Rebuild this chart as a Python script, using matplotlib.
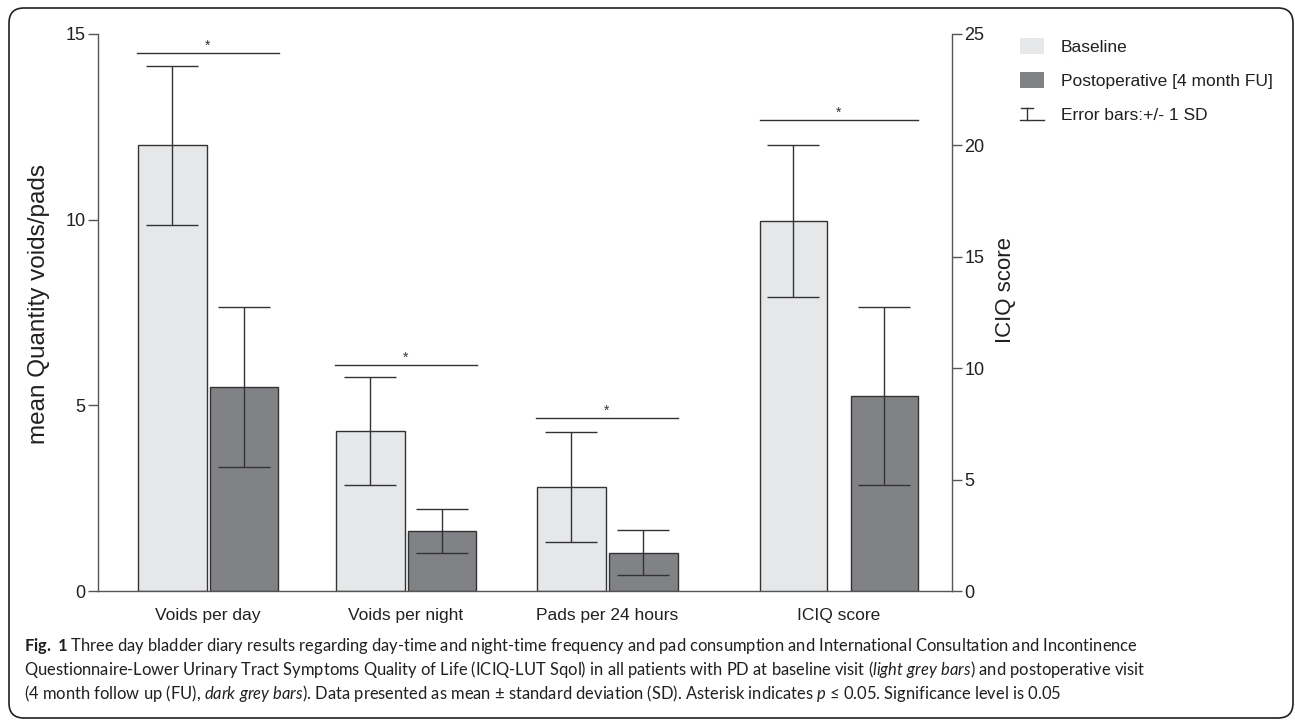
import numpy as np
import matplotlib
matplotlib.use("Agg")
import matplotlib.pyplot as plt
from matplotlib.patches import Patch, FancyBboxPatch
from matplotlib.lines import Line2D
from matplotlib.legend_handler import HandlerBase

plt.rcParams['font.family'] = ['Liberation Sans', 'DejaVu Sans']
plt.rcParams['mathtext.fontset'] = 'custom'
plt.rcParams['mathtext.rm'] = 'Lato'
plt.rcParams['mathtext.it'] = 'Lato:italic'
plt.rcParams['mathtext.bf'] = 'Lato:bold'

# data
categories = ['Voids per day', 'Voids per night', 'Pads per 24 hours', 'ICIQ score']
on_right_axis = [False, False, False, True]
baseline_mean = [12.0, 4.3, 2.8, 16.6]
baseline_sd = [2.15, 1.45, 1.48, 3.4]
post_mean = [5.5, 1.62, 1.03, 8.75]
post_sd = [2.15, 0.6, 0.6, 4.0]
significant = [True, True, True, True]

# layout
group_x = [0.0, 0.99, 1.995, 3.155]
half_gap = [0.18, 0.18, 0.18, 0.2275]
bar_w = [0.345, 0.345, 0.345, 0.335]
sig_half = [0.355, 0.355, 0.355, 0.395]
sig_gap = [0.34, 0.34, 0.38, 1.15]

light = '#e6e7e8'
dark = '#808285'
ink = '#333333'
axis_col = '#555555'

W, H = 1295, 722
fig = plt.figure(figsize=(W / 100, H / 100), dpi=100)
ax = fig.add_axes([98 / W, 1 - 591 / H, (952 - 98) / W, (591 - 34) / H])
ax2 = ax.twinx()

for i, cat in enumerate(categories):
    a = ax2 if on_right_axis[i] else ax
    xb = group_x[i] - half_gap[i]
    xp = group_x[i] + half_gap[i]
    a.bar([xb], [baseline_mean[i]], width=bar_w[i], color=light, edgecolor=ink, linewidth=1.0, zorder=2)
    a.bar([xp], [post_mean[i]], width=bar_w[i], color=dark, edgecolor=ink, linewidth=1.0, zorder=2)
    a.errorbar([xb, xp], [baseline_mean[i], post_mean[i]], yerr=[baseline_sd[i], post_sd[i]],
               fmt='none', ecolor=ink, elinewidth=1.0, capsize=18.4, capthick=1.0, zorder=3)
    if significant[i]:
        top = max(baseline_mean[i] + baseline_sd[i], post_mean[i] + post_sd[i]) + sig_gap[i]
        a.plot([group_x[i] - sig_half[i], group_x[i] + sig_half[i]], [top, top],
               color=ink, lw=1.0, zorder=3)
        a.text(group_x[i], top, '*', ha='center', va='bottom', fontsize=10, color=ink)

ax.set_xlim(-0.55, 3.72)
ax.set_ylim(0, 15)
ax2.set_ylim(0, 25)
ax.set_yticks([0, 5, 10, 15])
ax2.set_yticks([0, 5, 10, 15, 20, 25])
ax.set_xticks(group_x)
ax.set_xticklabels(categories, fontsize=12.5, color='#231f20')
ax.tick_params(axis='x', length=0, pad=12)
ax.tick_params(axis='y', direction='out', length=7, width=1.0, color=axis_col,
               labelsize=13, labelcolor='#231f20', pad=2)
ax2.tick_params(axis='y', direction='out', length=7, width=1.0, color=axis_col,
                labelsize=13, labelcolor='#231f20', pad=2)

for s in ['top', 'right']:
    ax.spines[s].set_visible(False)
for s in ['top', 'left', 'bottom']:
    ax2.spines[s].set_visible(False)
for sp in [ax.spines['left'], ax.spines['bottom'], ax2.spines['right']]:
    sp.set_color(axis_col)
    sp.set_linewidth(1.0)

ax.set_ylabel('mean Quantity voids/pads', fontsize=17.5, color='#231f20')
ax.yaxis.set_label_coords(-0.056, 0.515)
ax2.set_ylabel('ICIQ score', fontsize=16, color='#231f20', rotation=90)
ax2.yaxis.set_label_coords(1.05, 0.54)


class ErrorKey:
    pass


class IBeamHandler(HandlerBase):
    def create_artists(self, legend, orig_handle, xdescent, ydescent, width, height, fontsize, trans):
        x0, y0 = -xdescent, -ydescent
        yb = y0 + 0.1 * height
        yt = y0 + 0.85 * height
        cx = x0 + 0.3 * width
        arts = [Line2D([x0 + 0.05 * width, x0 + 0.55 * width], [yt, yt]),
                Line2D([cx, cx], [yb, yt]),
                Line2D([x0, x0 + width], [yb, yb])]
        for ln in arts:
            ln.set_color(ink)
            ln.set_linewidth(1.0)
            ln.set_transform(trans)
        return arts


handles = [Patch(facecolor=light, edgecolor='none'), Patch(facecolor=dark, edgecolor='none'), ErrorKey()]
labels = ['Baseline', 'Postoperative [4 month FU]', 'Error bars:+/- 1 SD']
fig.legend(handles, labels, loc='upper left', bbox_to_anchor=(1020 / W, 1 - 38 / H),
           frameon=False, fontsize=12.5, handlelength=1.4, handleheight=1.05,
           handletextpad=0.95, labelspacing=0.98, borderpad=0, borderaxespad=0,
           handler_map={ErrorKey: IBeamHandler()}, labelcolor='#231f20')

# caption
cap_lines = [
    r'$\mathbf{Fig.\ 1}$ Three day bladder diary results regarding day-time and night-time frequency and pad consumption and International Consultation and Incontinence',
    r'Questionnaire-Lower Urinary Tract Symptoms Quality of Life (ICIQ-LUT Sqol) in all patients with PD at baseline visit ($\mathit{light\ grey\ bars}$) and postoperative visit',
    r'(4 month follow up (FU), $\mathit{dark\ grey\ bars}$). Data presented as mean ± standard deviation (SD). Asterisk indicates $\mathit{p}$ ≤ 0.05. Significance level is 0.05',
]
for k, line in enumerate(cap_lines):
    fig.text(24 / W, 1 - (651 + 24 * k) / H, line, family=['Lato', 'DejaVu Sans'],
             fontsize=11.9, color='#231f20', ha='left', va='baseline')

# rounded frame
frame = FancyBboxPatch((0.09, 0.04), 12.84, 7.10, boxstyle='round,pad=0,rounding_size=0.15',
                       transform=fig.dpi_scale_trans, fill=False, ec='#231f20', lw=1.2)
fig.add_artist(frame)

fig.savefig('out.png', dpi=100)
